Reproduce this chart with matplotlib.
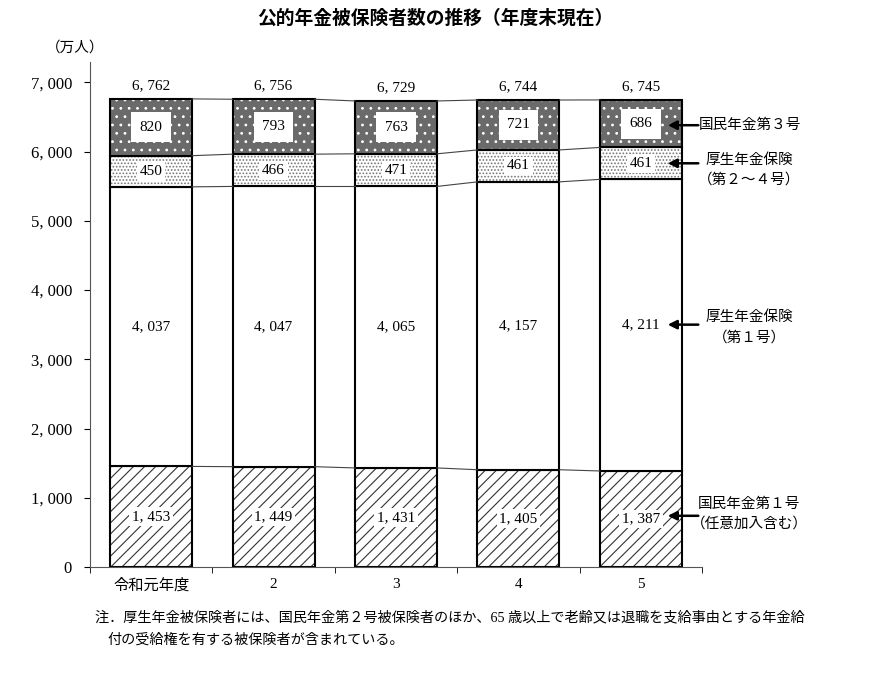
import matplotlib
matplotlib.use("Agg")
import matplotlib.pyplot as plt
import numpy as np

plt.rcParams['font.family'] = ['Liberation Serif', 'Noto Sans CJK JP', 'DejaVu Sans']
plt.rcParams['hatch.linewidth'] = 0.8

# data (万人)
years = ['令和元年度', '2', '3', '4', '5']
kokumin1 = [1453, 1449, 1431, 1405, 1387]
kosei1 = [4037, 4047, 4065, 4157, 4211]
kosei24 = [450, 466, 471, 461, 461]
kokumin3 = [820, 793, 763, 721, 686]
totals = [6762, 6756, 6729, 6744, 6745]

def fmt(v):
    s = '{:,}'.format(v)
    return s.replace(',', ', ')

fig = plt.figure(figsize=(8.7, 6.76), dpi=100)
ax = fig.add_axes([0.1034, 0.1612, 0.7035, 0.7468])

x = np.arange(len(years))
w = 0.67
segs = [kokumin1, kosei1, kosei24, kokumin3]
bottoms = np.zeros(len(years))
cums = []
for k, vals in enumerate(segs):
    vals = np.array(vals, dtype=float)
    if k == 0:
        ax.bar(x, vals, w, bottom=bottoms, color='white', edgecolor='#333333',
               hatch='///', linewidth=0)
    elif k == 1:
        ax.bar(x, vals, w, bottom=bottoms, color='white', linewidth=0)
    elif k == 2:
        ax.bar(x, vals, w, bottom=bottoms, color='white', edgecolor='#777777',
               hatch='.....', linewidth=0)
    else:
        ax.bar(x, vals, w, bottom=bottoms, color='#6a6a6a', edgecolor='white',
               hatch='..', linewidth=0)
    # outline
    ax.bar(x, vals, w, bottom=bottoms, fill=False, edgecolor='black', linewidth=1.5)
    # labels
    for i in range(len(x)):
        yc = bottoms[i] + vals[i] / 2
        txt = fmt(int(vals[i]))
        if k == 1:
            ax.text(x[i], yc, txt, ha='center', va='center', fontsize=11)
        elif k == 3:
            ax.text(x[i], yc, txt, ha='center', va='center', fontsize=11,
                    bbox=dict(facecolor='white', edgecolor='none', pad=6))
        else:
            ax.text(x[i], yc, txt, ha='center', va='center', fontsize=11,
                    bbox=dict(facecolor='white', edgecolor='none', pad=2))
    bottoms = bottoms + vals
    cums.append(bottoms.copy())

# connecting lines between bars
for c in cums:
    for i in range(len(x) - 1):
        ax.plot([x[i] + w / 2, x[i + 1] - w / 2], [c[i], c[i + 1]],
                color='#444444', linewidth=0.8)

# totals
for i in range(len(x)):
    ax.text(x[i], bottoms[i] + 100, fmt(totals[i]), ha='center', va='bottom', fontsize=11)

ax.set_xlim(-0.5, 4.5)
ax.set_ylim(0, 7290)
ax.set_yticks(np.arange(0, 7001, 1000))
ax.set_yticklabels([fmt(v) for v in range(0, 7001, 1000)], fontsize=12)
ax.set_xticks(x)
ax.set_xticklabels(years, fontsize=11)
ax.tick_params(axis='x', which='major', length=0, pad=8)
ax.set_xticks(np.arange(-0.5, 4.6, 1), minor=True)
ax.tick_params(axis='x', which='minor', length=4, direction='out')
ax.tick_params(axis='y', length=4, direction='out', pad=9)
ax.spines['top'].set_visible(False)
ax.spines['right'].set_visible(False)
ax.spines['left'].set_color('#555555')
ax.spines['bottom'].set_color('#555555')

# y unit
fig.text(0.086, 0.929, '（万人）', ha='center', va='center', fontsize=10.5)

# title
fig.text(0.5, 0.973, '公的年金被保険者数の推移（年度末現在）', ha='center', va='center',
         fontsize=13.5, fontweight='bold', family=['Noto Sans CJK JP'])

# right side annotations: (arrow y, text, text x, align, text y)
notes = [
    (6380, '国民年金第３号', 0.803, 'left', 6380),
    (5830, '厚生年金保険\n（第２～４号）', 0.861, 'center', 5730),
    (3500, '厚生年金保険\n（第１号）', 0.861, 'center', 3460),
    (740, '国民年金第１号\n（任意加入含む）', 0.861, 'center', 765),
]
for yv, txt, tx, ha, ty in notes:
    ax.annotate('', xy=(4.22, yv), xytext=(4.47, yv),
                arrowprops=dict(arrowstyle='-|>', color='black', lw=1.8,
                                mutation_scale=13, shrinkA=0, shrinkB=0),
                annotation_clip=False)
    fig.text(tx, ax.transData.transform((0, ty))[1] / fig.bbox.height, txt,
             ha=ha, va='center', fontsize=10.5, linespacing=1.55)

# footnote
fig.text(0.109, 0.086, '注．厚生年金被保険者には、国民年金第２号被保険者のほか、65 歳以上で老齢又は退職を支給事由とする年金給',
         ha='left', va='center', fontsize=10.2)
fig.text(0.124, 0.053, '付の受給権を有する被保険者が含まれている。', ha='left', va='center', fontsize=10.2)

fig.savefig('out.png', dpi=100, facecolor='white')
